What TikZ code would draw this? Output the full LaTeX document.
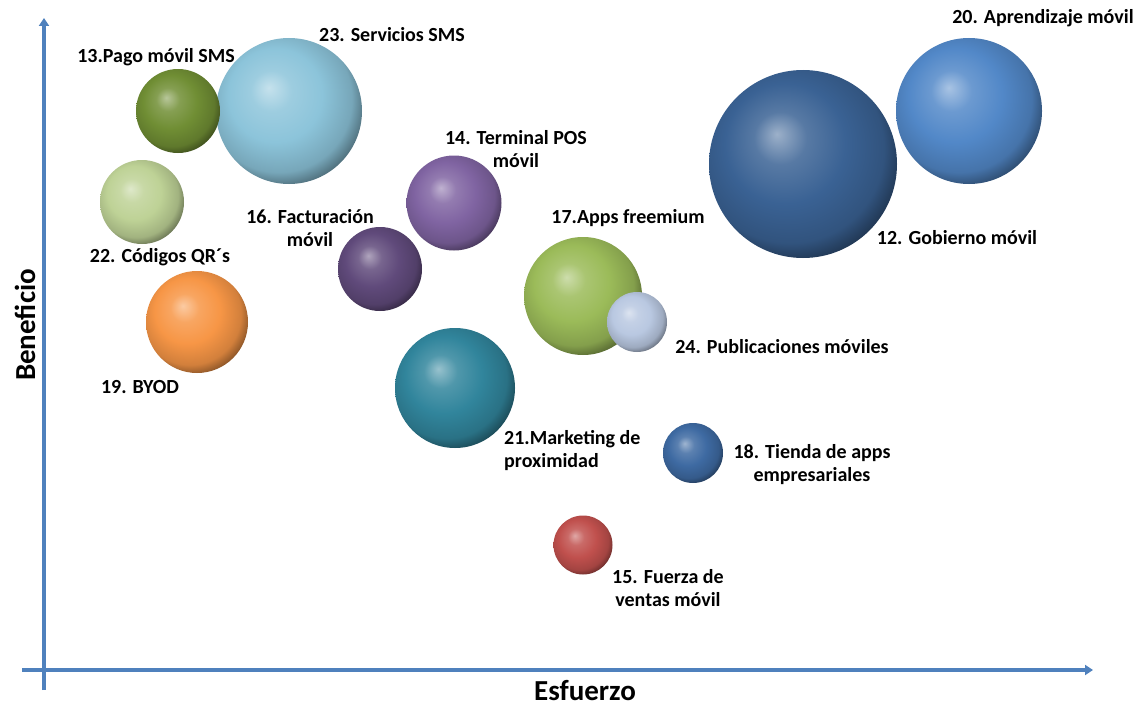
\documentclass[tikz,border=0pt]{standalone}
\usepackage{fontspec}
\setmainfont{Carlito}
\usepackage{xcolor}
\usetikzlibrary{arrows.meta}

\pgfdeclareradialshading[bubcol]{sphereshade}{\pgfpoint{-7bp}{8bp}}{%
  color(0bp)=(bubcol!50!white);
  color(7bp)=(bubcol!85!white);
  color(16bp)=(bubcol);
  color(25bp)=(bubcol!85!black);
  color(32bp)=(bubcol!40!black);
  color(50bp)=(bubcol!40!black)}

\tikzset{
  sphere col/.code={\colorlet{bubcol}{#1}},
  sphere/.style={circle,inner sep=0pt,shade,shading=sphereshade,sphere col=#1},
  lbl/.style={font=\bfseries\fontsize{20}{23}\selectfont,align=center,inner sep=0pt},
  axislbl/.style={font=\bfseries\fontsize{29}{32}\selectfont,inner sep=0pt},
  axis/.style={draw=axisblue,line width=3.2pt,-{Triangle[length=8pt,width=10pt]}}
}

\begin{document}
\begin{tikzpicture}[x=1pt,y=-1pt]
\definecolor{axisblue}{RGB}{79,129,189} % axis color
\definecolor{c12}{RGB}{58,98,148} % Gobierno movil
\definecolor{c13}{RGB}{112,142,52} % Pago movil SMS
\definecolor{c14}{RGB}{128,100,162} % Terminal POS
\definecolor{c15}{RGB}{192,80,77} % Fuerza de ventas
\definecolor{c16}{RGB}{96,74,123} % Facturacion
\definecolor{c17}{RGB}{155,187,89} % Apps freemium
\definecolor{c18}{RGB}{62,106,162} % Tienda de apps
\definecolor{c19}{RGB}{247,150,70} % BYOD
\definecolor{c20}{RGB}{82,136,200} % Aprendizaje
\definecolor{c21}{RGB}{49,133,156} % Marketing
\definecolor{c22}{RGB}{190,210,150} % Codigos QR
\definecolor{c23}{RGB}{140,196,218} % Servicios SMS
\definecolor{c24}{RGB}{185,200,225} % Publicaciones
\useasboundingbox (0,0) rectangle (1140,709);

% axes
\coordinate (xstart) at (22,670);
\coordinate (xend) at (1093,670);
\coordinate (ystart) at (44,690);
\coordinate (yend) at (44,18);
\draw[axis] (xstart) -- (xend);
\draw[axis] (ystart) -- (yend);
\node[axislbl,rotate=90] (ylab) at (25,325) {Beneficio};
\node[axislbl] (xlab) at (585,691) {Esfuerzo};

% bubbles
\node[sphere=c23,minimum size=146] (b23) at (289,111) {};
\node[sphere=c13,minimum size=84] (b13) at (178,111) {};
\node[sphere=c22,minimum size=84] (b22) at (142,202) {};
\node[sphere=c19,minimum size=102] (b19) at (197,322) {};
\node[sphere=c16,minimum size=84] (b16) at (380,269) {};
\node[sphere=c14,minimum size=95] (b14) at (454,203) {};
\node[sphere=c21,minimum size=120] (b21) at (455,388) {};
\node[sphere=c17,minimum size=118] (b17) at (583,296) {};
\node[sphere=c24,minimum size=60] (b24) at (637,322) {};
\node[sphere=c18,minimum size=60] (b18) at (693,453) {};
\node[sphere=c15,minimum size=59] (b15) at (583,545) {};
\node[sphere=c12,minimum size=188] (b12) at (803,164) {};
\node[sphere=c20,minimum size=146] (b20) at (969,111) {};

% labels
\node[lbl] (l13) at (156,57) {13.Pago móvil SMS};
\node[lbl] (l23) at (392,35) {23. Servicios SMS};
\node[lbl] (l22) at (160,257) {22. Códigos QR´s};
\node[lbl] (l19) at (140,387) {19. BYOD};
\node[lbl] (l16) at (310,228) {16. Facturación\\móvil};
\node[lbl] (l14) at (516,149) {14. Terminal POS\\móvil};
\node[lbl] (l17) at (628,218) {17.Apps freemium};
\node[lbl] (l24) at (782,347) {24. Publicaciones móviles};
\node[lbl,anchor=west,align=left] (l21) at (504,451) {21.Marketing de\\proximidad};
\node[lbl] (l18) at (812,465) {18. Tienda de apps\\empresariales};
\node[lbl] (l15) at (668,588) {15. Fuerza de\\ventas móvil};
\node[lbl] (l12) at (957,238) {12. Gobierno móvil};
\node[lbl] (l20) at (1043,18) {20. Aprendizaje móvil};

\end{tikzpicture}
\end{document}
